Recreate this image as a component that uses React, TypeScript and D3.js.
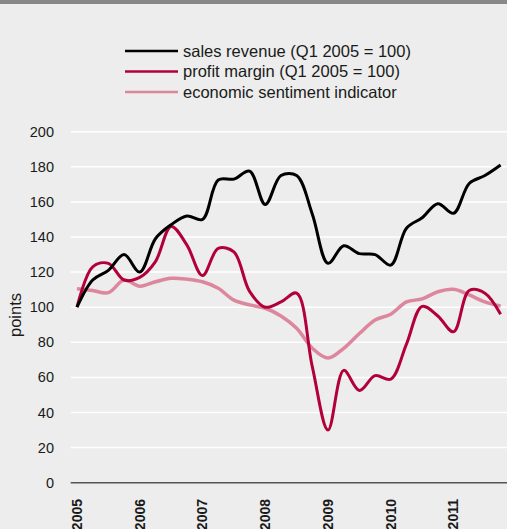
import { useEffect } from 'react';
import * as d3 from 'd3';

const QUARTERS = d3.range(28); // Q1 2005 .. Q4 2011
const YEARS = ['2005', '2006', '2007', '2008', '2009', '2010', '2011'];
const Y_TICKS = [0, 20, 40, 60, 80, 100, 120, 140, 160, 180, 200];

const salesRevenue = [100, 115.5, 121, 130, 120, 139, 147, 152, 150, 172.5, 173, 177.5, 158.5, 175, 175, 153, 125, 135, 130.5, 130, 124, 145, 151, 159, 153.5, 170.5, 175, 181];
const profitMargin = [100, 123, 125, 115.5, 117, 126, 146, 135.5, 118, 133.5, 131.5, 109, 100, 103, 108, 66, 30, 64, 52.5, 61, 59, 79, 100.5, 95, 86, 109.5, 108, 96];
const sentiment = [110.5, 109.5, 108.3, 115.5, 112, 114.5, 116.5, 116, 114.5, 110.8, 104, 101.3, 99.4, 95, 88, 76.6, 71, 76.6, 85, 92.7, 96, 103, 104.7, 108.8, 110.2, 107, 103, 100.7];

const SERIES = [
  { name: 'sales revenue (Q1 2005 = 100)', values: salesRevenue, color: '#000000', width: 3 },
  { name: 'profit margin (Q1 2005 = 100)', values: profitMargin, color: '#b2003a', width: 3 },
  { name: 'economic sentiment indicator', values: sentiment, color: '#dc879d', width: 3.5 },
];

const W = 507;
const H = 529;
const FONT = '"Liberation Sans", Arial, Helvetica, sans-serif';

export default function App() {
  useEffect(() => {
    document.body.style.margin = '0';
    document.body.style.background = '#ecedec';
  }, []);

  const x = d3.scaleLinear().domain([0, 27]).range([77, 500.6]);
  const y = d3.scaleLinear().domain([0, 200]).range([482.7, 131.7]);

  const line = d3.line<number>()
    .x((_, i) => x(QUARTERS[i]))
    .y(d => y(d))
    .curve(d3.curveCatmullRom);

  return (
    <svg width={W} height={H} style={{ display: 'block', fontFamily: FONT }}>
      <rect width={W} height={H} fill="#ecedec" />
      <rect width={W} height={4} fill="#888888" />

      {/* Legend */}
      {SERIES.map((s, i) => (
        <g key={s.name} transform={`translate(0,${51 + i * 20.5})`}>
          <line x1={125} x2={178} stroke={s.color} strokeWidth={2.5} />
          <text x={183} dy="0.35em" fontSize={16.5} fill="#1a1a1a">{s.name}</text>
        </g>
      ))}

      {/* Grid */}
      {Y_TICKS.filter(t => t > 0).map(t => (
        <line key={t} x1={70.7} x2={W} y1={y(t)} y2={y(t)} stroke="#ffffff" strokeWidth={1.5} />
      ))}
      {Y_TICKS.map(t => (
        <text key={t} x={54} y={y(t)} dy="0.35em" textAnchor="end" fontSize={14.5} fill="#1a1a1a">{t}</text>
      ))}
      <text transform="translate(15,315) rotate(-90)" textAnchor="middle" dy="0.35em" fontSize={16.5} fill="#1a1a1a">points</text>

      {/* Lines */}
      {SERIES.slice().reverse().map(s => (
        <path key={s.name} d={line(s.values) ?? ''} fill="none" stroke={s.color} strokeWidth={s.width} strokeLinejoin="round" />
      ))}

      {/* X axis */}
      <line x1={70.7} x2={W} y1={y(0)} y2={y(0)} stroke="#555555" strokeWidth={1.5} />
      {YEARS.map((yr, i) => (
        <text key={yr} transform={`translate(${x(i * 4)},499) rotate(-90)`} textAnchor="end" dy="0.35em" fontSize={14} fontWeight="bold" fill="#1a1a1a">{yr}</text>
      ))}
    </svg>
  );
}
